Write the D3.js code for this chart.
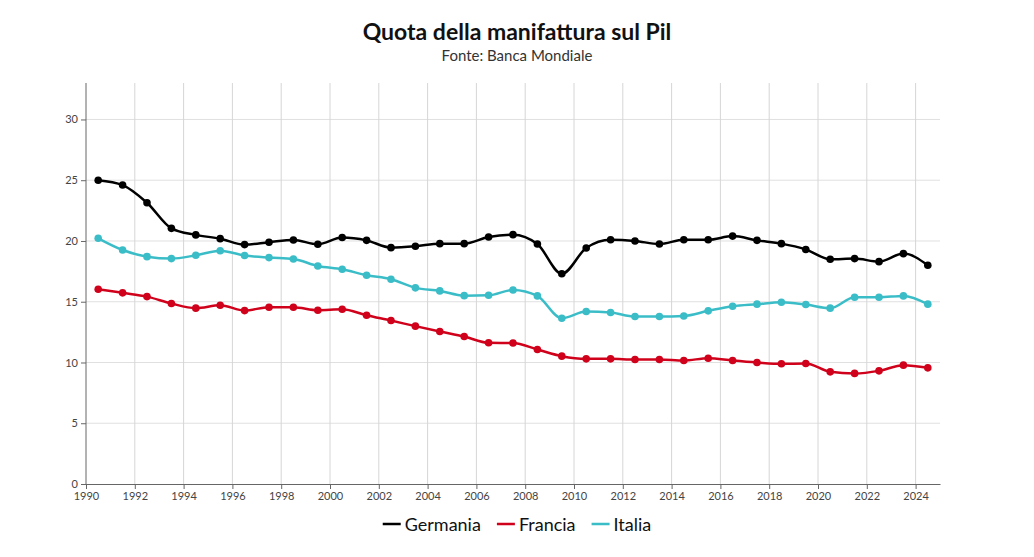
<!DOCTYPE html>
<html><head><meta charset="utf-8">
<script src="https://cdn.jsdelivr.net/npm/d3@7"></script>
<style>body{margin:0;background:#fff;font-family:Lato,"Open Sans",sans-serif}</style>
</head><body><svg id="c" width="1034" height="557"></svg>
<script>
const years = d3.range(1990, 2025);
const germania = [25.0,24.6,23.15,21.04,20.5,20.19,19.7,19.9,20.08,19.73,20.28,20.05,19.45,19.56,19.78,19.78,20.33,20.52,19.75,17.3,19.42,20.1,20.0,19.75,20.1,20.1,20.4,20.05,19.78,19.3,18.5,18.55,18.3,18.96,18.0];
const francia = [16.03,15.73,15.42,14.85,14.47,14.71,14.27,14.55,14.55,14.3,14.38,13.89,13.45,12.99,12.55,12.14,11.62,11.6,11.07,10.52,10.3,10.3,10.25,10.25,10.16,10.35,10.16,10.0,9.89,9.92,9.23,9.1,9.31,9.78,9.56];
const italia = [20.22,19.26,18.71,18.55,18.82,19.2,18.8,18.63,18.52,17.94,17.67,17.18,16.85,16.14,15.89,15.5,15.53,15.97,15.48,13.64,14.19,14.11,13.78,13.78,13.83,14.25,14.63,14.8,14.96,14.77,14.47,15.37,15.37,15.48,14.8];
const seriesNames = ["Germania","Francia","Italia"];
const seriesColors = ["#000000","#d0021b","#3bbdc8"];
const xTicks = d3.range(1990, 2025, 2);
const yTicks = [0,5,10,15,20,25,30];

const svg = d3.select("#c");
const m = {l:86, r:94, t:83, b:73};
const W = 1034, H = 557;
const x = d3.scaleLinear().domain([1990, 2025]).range([m.l, W - m.r]);
const y = d3.scaleLinear().domain([0, 33]).range([H - m.b, m.t]);

svg.append("text").attr("x", 517).attr("y", 40).attr("text-anchor","middle")
  .attr("font-size", 23).attr("font-weight", 700).attr("fill","#111").text("Quota della manifattura sul Pil");
svg.append("text").attr("x", 517).attr("y", 61).attr("text-anchor","middle")
  .attr("font-size", 15).attr("fill","#333").text("Fonte: Banca Mondiale");

// grid
svg.append("g").selectAll("line").data(yTicks.slice(1)).join("line")
  .attr("x1", m.l).attr("x2", W - m.r).attr("y1", d => y(d)).attr("y2", d => y(d))
  .attr("stroke", "#e0e0e0").attr("stroke-width", 1);
svg.append("g").selectAll("line").data(xTicks.slice(1)).join("line")
  .attr("x1", d => x(d)).attr("x2", d => x(d)).attr("y1", m.t).attr("y2", H - m.b)
  .attr("stroke", "#d6d6d6").attr("stroke-width", 1);

// axes
const xa = svg.append("g").attr("transform", `translate(0,${H - m.b})`)
  .call(d3.axisBottom(x).tickValues(xTicks).tickFormat(d3.format("d")).tickSize(5).tickSizeOuter(0));
const ya = svg.append("g").attr("transform", `translate(${m.l},0)`)
  .call(d3.axisLeft(y).tickValues(yTicks).tickSize(5).tickSizeOuter(0));
[xa, ya].forEach(a => {
  a.select(".domain").attr("stroke", "#666");
  a.selectAll(".tick line").attr("stroke", "#666");
  a.selectAll("text").attr("font-family", "Lato, sans-serif").attr("font-size", 11).attr("fill", "#444");
});
ya.select(".domain").attr("d", `M0,${m.t}V${H - m.b}`);

const all = [germania, francia, italia];
const line = d3.line().x((d,i) => x(years[i] + 0.5)).y(d => y(d)).curve(d3.curveMonotoneX);
all.forEach((s, k) => {
  const g = svg.append("g");
  g.append("path").attr("d", line(s)).attr("fill","none").attr("stroke", seriesColors[k]).attr("stroke-width", 2.5);
  g.selectAll("circle").data(s).join("circle")
    .attr("cx", (d,i) => x(years[i] + 0.5)).attr("cy", d => y(d)).attr("r", 3.8).attr("fill", seriesColors[k]);
});

// legend
const lg = svg.append("g").attr("font-family","Lato, sans-serif").attr("font-size", 18);
const items = [];
let cx = 0;
const tmp = lg.append("g");
seriesNames.forEach((n, k) => {
  const gi = tmp.append("g");
  gi.append("line").attr("x1", 0).attr("x2", 18).attr("y1", 0).attr("y2", 0).attr("stroke", seriesColors[k]).attr("stroke-width", 2.5);
  const t = gi.append("text").attr("x", 22).attr("y", 6.5).attr("fill", "#111").text(n);
  const w = 22 + t.node().getComputedTextLength();
  gi.attr("transform", `translate(${cx},0)`);
  cx += w + 16;
});
const total = cx - 16;
tmp.attr("transform", `translate(${517 - total/2},524)`);
</script></body></html>
